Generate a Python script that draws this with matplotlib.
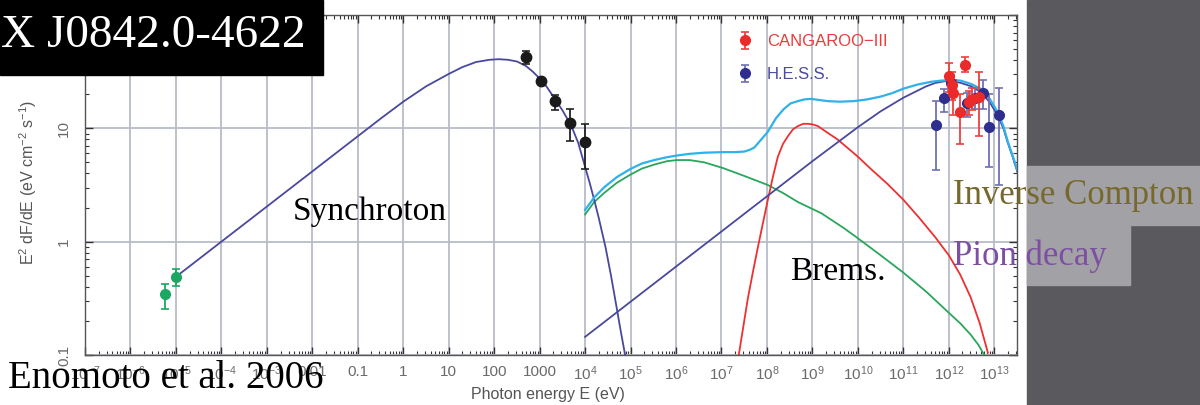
import numpy as np
import matplotlib
matplotlib.use("Agg")
from matplotlib import pyplot as plt
from matplotlib.patches import Rectangle
from matplotlib.ticker import FixedLocator, LogLocator, NullFormatter

plt.rcParams['font.family'] = ['Liberation Sans', 'DejaVu Sans']
plt.rcParams['mathtext.fontset'] = 'custom'
plt.rcParams['mathtext.rm'] = 'Liberation Sans'
plt.rcParams['mathtext.it'] = 'Liberation Sans:italic'
plt.rcParams['mathtext.bf'] = 'Liberation Sans:bold'

# model curves as log10(E/eV), log10(E^2 dF/dE)
sync_logE = [-5.0, -3.0, -1.0, -0.5, 0.0, 0.5, 1.0, 1.3, 1.6, 1.9, 2.1, 2.3, 2.5, 2.7,
             2.85, 3.0, 3.15, 3.35, 3.5, 3.7, 3.85, 4.0, 4.1, 4.2, 4.3, 4.45, 4.57,
             4.68, 4.78, 4.88]
sync_logF = [-0.31, 0.31, 0.93, 1.085, 1.235, 1.37, 1.48, 1.54, 1.585, 1.605, 1.61, 1.605,
             1.59, 1.55, 1.50, 1.44, 1.37, 1.25, 1.16, 1.02, 0.87, 0.66, 0.52, 0.37, 0.21,
             -0.05, -0.30, -0.55, -0.78, -1.0]

ic_logE = [4.0, 5.0, 6.0, 7.0, 8.0, 9.0, 9.5, 10.0, 10.5, 10.75, 11.0, 11.25, 11.5, 11.7,
           11.9, 12.1, 12.27, 12.5, 12.7, 12.9, 13.08, 13.2, 13.3, 13.42, 13.52]
ic_logF = [-0.84, -0.53, -0.22, 0.09, 0.40, 0.71, 0.86, 1.01, 1.15, 1.21, 1.27, 1.32, 1.37,
           1.40, 1.415, 1.415, 1.40, 1.37, 1.32, 1.23, 1.11, 1.0, 0.87, 0.73, 0.60]

brems_logE = [4.0, 4.2, 4.42, 4.7, 4.99, 5.25, 5.52, 5.8, 6.02, 6.3, 6.62, 7.03, 7.5,
              8.02, 8.35, 8.68, 9.2, 9.69, 10.0, 10.5, 10.99, 11.5, 11.98, 12.25, 12.48,
              12.65, 12.78]
brems_logF = [0.24, 0.35, 0.43, 0.52, 0.59, 0.645, 0.68, 0.71, 0.72, 0.72, 0.70, 0.65,
              0.58, 0.50, 0.43, 0.35, 0.25, 0.12, 0.03, -0.12, -0.27, -0.44, -0.62, -0.72,
              -0.82, -0.91, -1.0]

pion_logE = [7.38, 7.48, 7.58, 7.7, 7.8, 7.92, 8.02, 8.13, 8.24, 8.35, 8.46, 8.57, 8.68,
             8.8, 8.9, 9.0, 9.12, 9.3, 9.56, 10.0, 10.29, 10.65, 11.0, 11.35, 11.7, 12.0,
             12.25, 12.48, 12.68, 12.86]
pion_logF = [-1.0, -0.75, -0.5, -0.25, -0.05, 0.18, 0.37, 0.57, 0.75, 0.86, 0.93, 0.99,
             1.02, 1.04, 1.04, 1.035, 1.02, 0.97, 0.90, 0.75, 0.64, 0.51, 0.37, 0.21, 0.04,
             -0.12, -0.29, -0.49, -0.72, -0.98]

total_logE = [4.0, 4.2, 4.42, 4.7, 4.99, 5.25, 5.52, 5.8, 6.02, 6.3, 6.62, 7.03, 7.3, 7.5,
              7.62, 7.72, 7.85, 8.02, 8.2, 8.37, 8.52, 8.68, 8.82, 8.97, 9.15, 9.34, 9.6,
              9.91, 10.2, 10.5, 10.75, 11.0, 11.3, 11.6, 11.8, 11.98, 12.15, 12.27, 12.5,
              12.7, 12.9, 13.08, 13.2, 13.3, 13.42, 13.52]
total_logF = [0.28, 0.39, 0.48, 0.57, 0.64, 0.69, 0.72, 0.745, 0.76, 0.775, 0.785, 0.79,
              0.79, 0.795, 0.81, 0.83, 0.89, 0.97, 1.09, 1.17, 1.22, 1.24, 1.255, 1.26,
              1.25, 1.24, 1.235, 1.24, 1.255, 1.28, 1.31, 1.35, 1.385, 1.41, 1.42, 1.425,
              1.425, 1.42, 1.39, 1.35, 1.26, 1.14, 1.02, 0.88, 0.74, 0.62]

# data points: log10 E, log10 flux, log10 low, log10 high
radio_logE = [-5.23, -5.0]
radio_logF = [-0.46, -0.31]
radio_lo = [-0.59, -0.39]
radio_hi = [-0.37, -0.24]

xray_logE = [2.70, 3.03, 3.34, 3.67, 4.0]
xray_logF = [1.63, 1.42, 1.24, 1.05, 0.88]
xray_lo = [1.57, 1.40, 1.16, 0.89, 0.64]
xray_hi = [1.68, 1.44, 1.29, 1.17, 1.04]

hess_logE = [11.72, 11.90, 12.05, 12.40, 12.58, 12.76, 12.89, 13.10]
hess_logF = [1.03, 1.27, 1.40, 1.22, 1.27, 1.31, 1.01, 1.12]
hess_lo = [0.63, 1.14, 1.33, 1.10, 1.17, 1.17, 0.66, 0.50]
hess_hi = [1.24, 1.35, 1.47, 1.31, 1.36, 1.43, 1.30, 1.36]

cang_logE = [12.00, 12.07, 12.10, 12.24, 12.35, 12.44, 12.52, 12.66]
cang_logF = [1.46, 1.38, 1.31, 1.14, 1.56, 1.23, 1.26, 1.28]
cang_lo = [1.32, 1.25, 1.12, 0.86, 1.50, 1.12, 1.16, 0.93]
cang_hi = [1.58, 1.50, 1.43, 1.30, 1.63, 1.33, 1.36, 1.50]

x_exp = list(range(-7, 14))
x_labels = [r'$10^{-7}$', r'$10^{-6}$', r'$10^{-5}$', r'$10^{-4}$', r'$10^{-3}$',
            '0.01', '0.1', '1', '10', '100', '1000',
            r'$10^{4}$', r'$10^{5}$', r'$10^{6}$', r'$10^{7}$', r'$10^{8}$', r'$10^{9}$',
            r'$10^{10}$', r'$10^{11}$', r'$10^{12}$', r'$10^{13}$']
y_ticks = [0.1, 1, 10, 100]
y_labels = ['0.1', '1', '10', '100']


def p(v):
    return 10.0 ** np.asarray(v, dtype=float)


def pts(ax, lE, lF, lo, hi, col, ecol, ms, label=None):
    F = p(lF)
    err = [F - p(lo), p(hi) - F]
    return ax.errorbar(p(lE), F, yerr=err, fmt='o', color=col, ecolor=ecol, ms=ms,
                       elinewidth=1.3, capsize=3, capthick=1.2, zorder=6, label=label)


W, H = 1200, 405
fig = plt.figure(figsize=(12, 4.05), dpi=100)
fig.patch.set_facecolor('white')


def fx(x):
    return x / W


def fy(y):
    return 1 - y / H


ax = fig.add_axes([fx(85), fy(355), (1017 - 85) / W, (355 - 15) / H])
ax.set_xscale('log')
ax.set_yscale('log')
ax.set_xlim(1e-7, 10 ** 13.5)
ax.set_ylim(0.1, 100)

ax.plot(p(brems_logE), p(brems_logF), color='#2aa65c', lw=1.3, zorder=3)
ax.plot(p(pion_logE), p(pion_logF), color='#ee3030', lw=1.3, zorder=3)
ax.plot(p(ic_logE), p(ic_logF), color='#4a489e', lw=1.3, zorder=3)
ax.plot(p(sync_logE), p(sync_logF), color='#4a489e', lw=1.3, zorder=3)
ax.plot(p(total_logE), p(total_logF), color='#2fb2ea', lw=1.6, zorder=4)

pts(ax, radio_logE, radio_logF, radio_lo, radio_hi, '#1aa862', '#1aa862', 7)
pts(ax, xray_logE, xray_logF, xray_lo, xray_hi, '#1a1a1a', '#222222', 7.5)
h1 = pts(ax, hess_logE, hess_logF, hess_lo, hess_hi, '#2e2e8e', '#7070b4', 7, 'H.E.S.S.')
h2 = pts(ax, cang_logE, cang_logF, cang_lo, cang_hi, '#ec2a2a', '#ee4040', 7, 'CANGAROO\u2212III')

leg = ax.legend(handles=[h2, h1], loc='upper left', bbox_to_anchor=(fx(722), fy(19)),
                bbox_transform=fig.transFigure, frameon=False, fontsize=12,
                handlelength=1.0, handletextpad=0.8, labelspacing=1.1)
for t, c in zip(leg.get_texts(), ['#ec3a3a', '#4a4aa0']):
    t.set_color(c)

ax.xaxis.set_major_locator(FixedLocator(p(x_exp)))
ax.xaxis.set_minor_locator(LogLocator(base=10, subs=np.arange(2, 10), numticks=100))
ax.xaxis.set_minor_formatter(NullFormatter())
ax.set_xticklabels(x_labels)
ax.yaxis.set_major_locator(FixedLocator(y_ticks))
ax.yaxis.set_minor_locator(LogLocator(base=10, subs=np.arange(2, 10), numticks=100))
ax.yaxis.set_minor_formatter(NullFormatter())
ax.set_yticklabels(y_labels, rotation=90, va='center')

ax.tick_params(which='both', direction='in', top=True, right=True, colors='#333333',
               labelcolor='#6a6a6a', labelsize=11)
ax.tick_params(which='major', length=6, width=1.0)
ax.tick_params(which='minor', length=3, width=0.8)
ax.tick_params(axis='x', pad=7)
ax.tick_params(axis='y', pad=10)
ax.grid(which='major', color='#b8bcc8', lw=1.3, zorder=0)
ax.set_axisbelow(True)
for s in ax.spines.values():
    s.set_color('#555555')
    s.set_linewidth(1.0)

ax.set_xlabel('Photon energy E (eV)', fontsize=11.5, color='#555555')
ax.xaxis.set_label_coords((548 - 85) / 932, (355 - 395) / 340)
ax.xaxis.label.set_va('center')
ax.set_ylabel(r'E$^2$ dF/dE (eV cm$^{-2}$ s$^{-1}$)', fontsize=11.5, color='#555555')
ax.yaxis.set_label_coords((28 - 85) / 932, (355 - 182) / 340)
ax.yaxis.label.set_va('center')

# slide overlays
fig.add_artist(Rectangle((fx(1027), 0), 1 - fx(1027), 1, transform=fig.transFigure,
                         color='#5a595e', zorder=10))
fig.add_artist(Rectangle((fx(1027), fy(225)), 1 - fx(1027), 59 / H, transform=fig.transFigure,
                         color='#a2a1a5', zorder=11))
fig.add_artist(Rectangle((fx(1027), fy(285)), (1130 - 1027) / W, 59 / H, transform=fig.transFigure,
                         color='#a2a1a5', zorder=11))
fig.add_artist(Rectangle((0, fy(75)), fx(323), 75 / H, transform=fig.transFigure,
                         color='black', zorder=11))

serif = ['Liberation Serif', 'DejaVu Serif']
fig.text(fx(1), fy(36), 'X J0842.0-4622', family=serif, fontsize=34, color='white',
         va='center', ha='left', zorder=12)
fig.text(fx(293), fy(212), 'Synchroton', family=serif, fontsize=24, color='black',
         va='center', zorder=12)
fig.text(fx(790), fy(272), 'Brems.', family=serif, fontsize=24, color='black',
         va='center', zorder=12)
fig.text(fx(8), fy(378), 'Enomoto et al. 2006', family=serif, fontsize=28, color='black',
         va='center', zorder=12)
fig.text(fx(953), fy(196), 'Inverse Compton', family=serif, fontsize=25, color='#77692b',
         va='center', zorder=12)
fig.text(fx(953), fy(256), 'Pion decay', family=serif, fontsize=25, color='#7d4fa3',
         va='center', zorder=12)

fig.savefig('out.png', dpi=100)
